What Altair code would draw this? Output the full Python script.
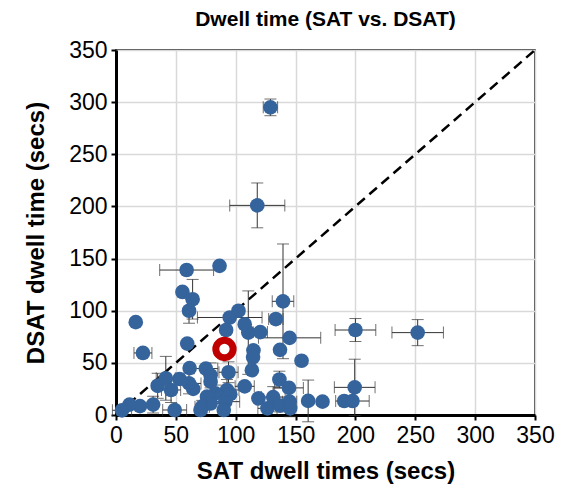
import altair as alt
import pandas as pd

# SAT dwell time (x), DSAT dwell time (y), x error, y error
sat = [129, 118, 59, 86.5, 55.5, 64, 61, 16.5, 139.5, 133.5,
       102.3, 95, 107.5, 110.5, 120.5, 92, 145, 200, 252, 22.5,
       59.5, 61.5, 114.8, 114.5, 137, 155, 113.5, 94, 75, 79,
       136.5, 144.5, 107.5, 79, 92.7, 95.4, 83, 76, 79, 72,
       70.6, 91.3, 90, 49, 34.8, 41.6, 46, 53, 61, 64.5,
       31, 20, 11.3, 5, 119, 131.3, 137, 126.5, 145.5, 145,
       160.5, 172.5, 190.6, 197.5, 199.4]
dsat = [295, 201, 139, 143, 118, 111, 100, 89, 109, 92,
        100, 93.5, 87, 79, 79.5, 81.5, 74, 81.5, 79, 59.5,
        68.5, 45, 62, 55.5, 62.5, 52, 43, 41, 44.5, 38,
        34, 26, 27.5, 32, 24, 20, 20.7, 17.6, 11, 8,
        4.8, 12.8, 4.8, 4.8, 28, 35.2, 24, 34.5, 30.3, 25,
        10, 8.5, 10, 4.5, 16, 17.2, 9, 6.4, 6.4, 12.8,
        13.5, 12.8, 13.4, 13.4, 26.5]
sat_err = [6, 23, 22.5, 0, 0, 0, 0, 0, 9, 6,
           0, 27, 0, 0, 6, 0, 26, 17, 21.5, 7.5,
           0, 0, 0, 0, 0, 0, 0, 8, 10, 0,
           0, 12, 8, 0, 10, 0, 0, 0, 8, 6,
           0, 12, 0, 10, 0, 8, 8, 0, 10, 0,
           0, 0, 0, 8, 0, 10, 0, 8, 0, 6,
           0, 0, 0, 14, 17]
dsat_err = [8, 21.5, 0, 0, 0, 19, 12, 0, 55, 0,
            0, 0, 0, 40, 0, 0, 0, 11, 12.5, 0,
            0, 0, 0, 0, 0, 0, 0, 10, 0, 12,
            8, 0, 0, 0, 10, 0, 8, 0, 0, 6,
            0, 0, 0, 0, 12, 21, 12, 0, 10, 0,
            8, 0, 0, 0, 0, 10, 6, 0, 8, 0,
            20, 0, 0, 0, 27]

highlight_sat = [90.6]
highlight_dsat = [63.3]

diag_x = [0, 350]
diag_y = [0, 350]

df = pd.DataFrame({"sat": sat, "dsat": dsat, "xe": sat_err, "ye": dsat_err})
df["xlo"] = df["sat"] - df["xe"]
df["xhi"] = df["sat"] + df["xe"]
df["ylo"] = df["dsat"] - df["ye"]
df["yhi"] = df["dsat"] + df["ye"]
dfx = df[df["xe"] > 0]
dfy = df[df["ye"] > 0]

xs = alt.Scale(domain=[0, 350], nice=False, zero=True)
ys = alt.Scale(domain=[0, 350], nice=False, zero=True)

xaxis = alt.Axis(title="SAT dwell times (secs)", values=list(range(0, 351, 50)),
                 grid=True, labelFlush=False)
yaxis = alt.Axis(title="DSAT dwell time (secs)", values=list(range(0, 351, 50)),
                 grid=True, labelFlush=False)

err_color = "#333333"

base_pts = alt.Chart(df).mark_circle(size=215, color="#35639b", opacity=1).encode(
    x=alt.X("sat:Q", scale=xs, axis=xaxis),
    y=alt.Y("dsat:Q", scale=ys, axis=yaxis),
)

xrule = alt.Chart(dfx).mark_rule(color=err_color, strokeWidth=1).encode(
    x=alt.X("xlo:Q", scale=xs), x2="xhi:Q", y=alt.Y("dsat:Q", scale=ys))
xcap_lo = alt.Chart(dfx).mark_tick(color=err_color, orient="vertical", size=12, thickness=1).encode(
    x=alt.X("xlo:Q", scale=xs), y=alt.Y("dsat:Q", scale=ys))
xcap_hi = alt.Chart(dfx).mark_tick(color=err_color, orient="vertical", size=12, thickness=1).encode(
    x=alt.X("xhi:Q", scale=xs), y=alt.Y("dsat:Q", scale=ys))

yrule = alt.Chart(dfy).mark_rule(color=err_color, strokeWidth=1).encode(
    x=alt.X("sat:Q", scale=xs), y=alt.Y("ylo:Q", scale=ys), y2="yhi:Q")
ycap_lo = alt.Chart(dfy).mark_tick(color=err_color, orient="horizontal", size=12, thickness=1).encode(
    x=alt.X("sat:Q", scale=xs), y=alt.Y("ylo:Q", scale=ys))
ycap_hi = alt.Chart(dfy).mark_tick(color=err_color, orient="horizontal", size=12, thickness=1).encode(
    x=alt.X("sat:Q", scale=xs), y=alt.Y("yhi:Q", scale=ys))

diag = alt.Chart(pd.DataFrame({"x": diag_x, "y": diag_y})).mark_line(
    color="black", strokeWidth=2.5, strokeDash=[10, 6], clip=True).encode(
    x=alt.X("x:Q", scale=xs), y=alt.Y("y:Q", scale=ys))

ring = alt.Chart(pd.DataFrame({"sat": highlight_sat, "dsat": highlight_dsat})).mark_point(
    shape="circle", filled=False, size=300, stroke="#c00000", strokeWidth=7, opacity=1).encode(
    x=alt.X("sat:Q", scale=xs), y=alt.Y("dsat:Q", scale=ys))

chart = alt.layer(
    diag, xrule, xcap_lo, xcap_hi, yrule, ycap_lo, ycap_hi, base_pts, ring
).properties(
    width=419, height=365,
    title=alt.TitleParams("Dwell time (SAT vs. DSAT)", fontSize=21, fontWeight="bold",
                          font="Liberation Sans", color="black", offset=9),
    autosize=alt.AutoSizeParams(type="none"),
    padding={"left": 108, "top": 42, "right": 22, "bottom": 70},
).configure_view(
    stroke="black", strokeWidth=1.5
).configure_axis(
    labelFont="Liberation Sans", labelFontSize=23, labelColor="black",
    titleFont="Liberation Sans", titleFontSize=24, titleFontWeight="bold", titleColor="black",
    gridColor="#d9d9d9", gridWidth=1.5,
    domainColor="black", domainWidth=3,
    tickColor="black", tickSize=5, tickWidth=2,
    labelPadding=4,
).configure_axisX(
    titlePadding=12
).configure_axisY(
    titlePadding=20
)

chart.save("out.html", embed_options={"renderer": "svg", "actions": False})
